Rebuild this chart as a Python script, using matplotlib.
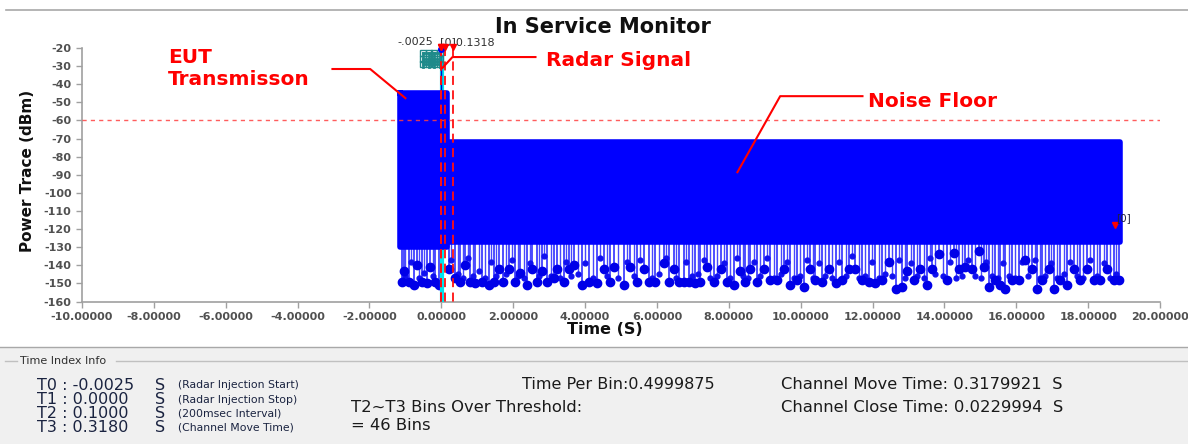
import matplotlib
matplotlib.use("Agg")
import matplotlib.pyplot as plt
from matplotlib.patches import Rectangle
from matplotlib.lines import Line2D

plt.rcParams['font.family'] = ['DejaVu Sans']

# ---------------- data ----------------
x_ticks = [-10, -8, -6, -4, -2, 0, 2, 4, 6, 8, 10, 12, 14, 16, 18, 20]
y_ticks = [-20, -30, -40, -50, -60, -70, -80, -90, -100, -110, -120, -130, -140, -150, -160]
threshold = -60

# EUT transmission band (time, top, bottom)
eut_t = [-1.15, 0.15]
eut_top = [-45, -45]
eut_bot = [-130, -130]
# noise floor band
noise_t = [0.15, 18.9]
noise_top = [-72, -72]
noise_bot = [-127, -127]

# stems below the dense band (big end dots): time and lowest value
stem_t = [-1.09, -1.05, -0.91, -0.77, -0.68, -0.54, -0.40, -0.31, -0.17, -0.07,
          0.20, 0.39, 0.53, 0.67, 0.81, 0.95, 1.13, 1.32, 1.46, 1.60,
          1.73, 1.87, 2.06, 2.20, 2.39, 2.52, 2.66, 2.80, 2.94, 3.13,
          3.22, 3.40, 3.54, 3.68, 3.92, 4.10, 4.33, 4.52, 4.70, 4.80,
          5.07, 5.26, 5.45, 5.63, 5.77, 5.96, 6.19, 6.33, 6.47, 6.61,
          6.74, 6.88, 7.07, 7.21, 7.39, 7.58, 7.77, 7.95, 8.14, 8.32,
          8.46, 8.60, 8.79, 8.97, 9.16, 9.34, 9.53, 9.71, 9.90, 10.08,
          10.27, 10.41, 10.60, 10.78, 10.97, 11.15, 11.34, 11.52, 11.71, 11.89,
          12.08, 12.27, 12.45, 12.64, 12.82, 12.96, 13.15, 13.33, 13.52, 13.66,
          13.84, 14.07, 14.26, 14.40, 14.58, 14.77, 14.96, 15.09, 15.23, 15.42,
          15.56, 15.70, 15.88, 16.07, 16.25, 16.44, 16.58, 16.72, 16.90, 17.04,
          17.23, 17.41, 17.60, 17.78, 17.97, 18.15, 18.34, 18.53, 18.71, 18.85]
stem_v = [-149, -143, -149, -151, -140, -149, -150, -141, -149, -151,
          -142, -147, -149, -140, -149, -150, -149, -151, -149, -142,
          -149, -142, -149, -144, -151, -142, -149, -143, -149, -147,
          -142, -149, -142, -140, -151, -149, -150, -142, -149, -141,
          -151, -141, -149, -142, -149, -149, -139, -149, -142, -149,
          -149, -149, -150, -149, -141, -149, -142, -149, -151, -143,
          -149, -142, -149, -142, -148, -148, -142, -151, -148, -152,
          -142, -148, -149, -142, -150, -148, -142, -142, -148, -149,
          -150, -148, -138, -153, -152, -143, -148, -142, -151, -142,
          -134, -148, -133, -142, -141, -142, -132, -141, -152, -148,
          -151, -153, -148, -148, -137, -142, -153, -148, -142, -153,
          -148, -151, -142, -148, -142, -148, -148, -142, -148, -148]

# thinner extra stems seen between the big ones
extra_t = [-1.00, -0.85, -0.62, -0.47, -0.24, 0.27, 0.46, 0.60, 0.74, 0.88,
           1.04, 1.22, 1.39, 1.53, 1.80, 1.96, 2.13, 2.30, 2.46, 2.73,
           2.87, 3.04, 3.31, 3.47, 3.61, 3.80, 4.01, 4.21, 4.42, 4.61,
           4.92, 5.16, 5.36, 5.54, 5.86, 6.06, 6.26, 6.54, 6.81, 6.97,
           7.14, 7.30, 7.48, 7.67, 7.86, 8.04, 8.23, 8.39, 8.53, 8.70,
           8.88, 9.07, 9.25, 9.44, 9.62, 9.81, 9.99, 10.18, 10.34, 10.50,
           10.69, 10.87, 11.06, 11.25, 11.43, 11.61, 11.80, 11.98, 12.17, 12.36,
           12.54, 12.73, 12.89, 13.06, 13.24, 13.43, 13.59, 13.75, 13.95, 14.16,
           14.33, 14.49, 14.67, 14.86, 15.02, 15.16, 15.32, 15.49, 15.63, 15.79,
           15.97, 16.16, 16.34, 16.51, 16.65, 16.81, 16.97, 17.13, 17.32, 17.50,
           17.69, 17.87, 18.06, 18.24, 18.43, 18.62, 18.78]
extra_v = [-146, -138, -147, -144, -146, -137, -145, -147, -136, -146,
           -143, -147, -138, -146, -145, -137, -146, -147, -139, -146,
           -135, -146, -147, -138, -146, -145, -139, -147, -136, -146,
           -147, -138, -146, -137, -147, -145, -136, -147, -138, -146,
           -145, -137, -147, -146, -139, -147, -136, -146, -147, -138,
           -146, -136, -147, -145, -138, -147, -146, -137, -147, -139,
           -146, -147, -138, -146, -135, -147, -146, -138, -147, -145,
           -146, -137, -147, -139, -146, -147, -136, -145, -146, -138,
           -147, -146, -137, -146, -147, -138, -146, -147, -139, -146,
           -147, -138, -146, -137, -147, -146, -139, -147, -145, -138,
           -146, -147, -137, -146, -139, -147, -145]

# radar signal
radar_t = 0.02
radar_top = -25
teal_t = [-0.50, -0.35, -0.20, -0.05]
teal_v = [-23, -26, -29]

# time indices T0..T3
marker_t = [-0.0025, 0.0, 0.1, 0.318]
marker_v = -19.5
end_marker = (18.76, -118)

# ---------------- figure ----------------
W, H = 1188, 444
fig = plt.figure(figsize=(W / 100, H / 100), dpi=100)
fig.patch.set_facecolor('white')


def fx(px):
    return px / W


def fy(py):
    return 1 - py / H


# bottom panel
fig.patches.append(Rectangle((0, 0), 1, fy(347), transform=fig.transFigure,
                             facecolor='#f0f0f0', edgecolor='none', zorder=0))
fig.lines.append(Line2D([0, 1], [fy(347), fy(347)], transform=fig.transFigure,
                        color='#a8a8a8', lw=1))
fig.lines.append(Line2D([fx(6), 1], [fy(10), fy(10)], transform=fig.transFigure,
                        color='#a8a8a8', lw=1.2))
fig.lines.append(Line2D([fx(5), fx(17)], [fy(361), fy(361)], transform=fig.transFigure,
                        color='#c0c0c0', lw=1))
fig.lines.append(Line2D([fx(116), fx(1188)], [fy(361), fy(361)], transform=fig.transFigure,
                        color='#c0c0c0', lw=1))

ax = fig.add_axes([fx(82), fy(301.5), fx(1160) - fx(82), fy(48) - fy(301.5)])
ax.set_xlim(-10, 20)
ax.set_ylim(-160, -20)
ax.set_facecolor('white')
for s in ['top', 'right']:
    ax.spines[s].set_visible(False)
for s in ['left', 'bottom']:
    ax.spines[s].set_color('#a0a0a0')
    ax.spines[s].set_linewidth(1.2)
ax.set_xticks(x_ticks)
ax.set_xticklabels(['%.5f' % v for v in x_ticks])
ax.set_yticks(y_ticks)
ax.set_yticklabels(['%d' % v for v in y_ticks])
ax.tick_params(axis='both', colors='#a0a0a0', length=4, width=1, labelsize=8,
               labelcolor='#505050')
for lab in ax.get_xticklabels() + ax.get_yticklabels():
    lab.set_fontweight('bold')

blue = '#0000ff'


def base_of(t):
    return eut_bot[0] if t < eut_t[1] else noise_bot[0]


# stems
for t, v in zip(extra_t, extra_v):
    ax.plot([t, t], [base_of(t), v], color='#4848ff', lw=1.0, zorder=2)
ax.plot(extra_t, extra_v, 'o', color='#1010f0', ms=3.5, zorder=2.4)
for t, v in zip(stem_t, stem_v):
    ax.plot([t, t], [base_of(t), v], color='#3030ff', lw=1.2, zorder=2)
ax.plot(stem_t, stem_v, 'o', color='#0000e8', ms=6, zorder=2.5, clip_on=False)

# radar signal (cyan) below the dense band
ax.plot([radar_t, radar_t], [radar_top, -160], color='#00e5ee', lw=3, zorder=3)
ax.plot([radar_t - 0.04, radar_t - 0.04], [-20, -45], color='#0000cc', lw=1, zorder=3)
ax.plot([radar_t - 0.04], [-20.5], 'o', color='#0000ff', ms=4, zorder=6, clip_on=False)
teal = '#1f8a8a'
for v in teal_v:
    ax.plot(teal_t, [v] * len(teal_t), color=teal, lw=2, marker='s', ms=5,
            mfc='none', mec=teal, zorder=4)
for t in teal_t:
    ax.plot([t, t], [teal_v[0], teal_v[-1] - 1.5], color=teal, lw=2, zorder=4)

# dense bands
ax.fill_between(eut_t, eut_top, eut_bot, color=blue, lw=0, zorder=4)
ax.plot([eut_t[0], eut_t[1], eut_t[1], eut_t[0], eut_t[0]],
        [eut_top[0], eut_top[1], eut_bot[1], eut_bot[0], eut_top[0]],
        color=blue, lw=4, solid_joinstyle='round', zorder=4)
ax.fill_between(noise_t, noise_top, noise_bot, color=blue, lw=0, zorder=4)
ax.plot([noise_t[0], noise_t[1], noise_t[1], noise_t[0]],
        [noise_top[0], noise_top[1], noise_bot[1], noise_bot[0]],
        color=blue, lw=4, solid_joinstyle='round', zorder=4)

# threshold line
ax.axhline(threshold, color='#ff4040', lw=1, ls=(0, (3, 3)), alpha=0.85, zorder=5)

# time index markers
for t in marker_t:
    ax.plot([t, t], [marker_v, -160], color='#ff1010', lw=1.3, ls=(0, (5, 3)), zorder=5,
            clip_on=False)
ax.plot(marker_t, [marker_v] * len(marker_t), 'v', color='#ff0000', ms=5, zorder=6,
        clip_on=False)
ax.plot([end_marker[0]], [end_marker[1]], 'v', color='#ff0000', ms=5, zorder=6)
ax.text(end_marker[0] + 0.02, end_marker[1] + 1.5, '[0]', fontsize=7.5, color='#202040',
        ha='left', va='bottom', zorder=7, clip_on=False)

ax.text(-0.22, -18.2, '-.0025', fontsize=8, color='#303030', ha='right', va='baseline',
        clip_on=False)
ax.text(-0.03, -18.2, '[0]0.1318', fontsize=8, color='#303030', ha='left', va='baseline',
        clip_on=False)

# annotations
red = '#ff0000'
ax.plot([-3.03, -1.98, -1.0], [-31.6, -31.6, -47.7], color=red, lw=1.5, zorder=8,
        clip_on=False)
ax.text(-7.6, -28.3, 'EUT', color=red, fontsize=14.5, fontweight='bold', ha='left',
        va='baseline', clip_on=False)
ax.text(-7.6, -40.5, 'Transmisson', color=red, fontsize=14.5, fontweight='bold', ha='left',
        va='baseline', clip_on=False)
ax.plot([2.62, 0.31, 0.03], [-25, -25, -31], color=red, lw=1.5, zorder=8, clip_on=False)
ax.text(2.92, -30, 'Radar Signal', color=red, fontsize=14.5, fontweight='bold', ha='left',
        va='baseline', clip_on=False)
ax.plot([11.72, 9.43, 8.24], [-46.6, -46.6, -88.6], color=red, lw=1.5, zorder=8)
ax.text(11.88, -52.6, 'Noise Floor', color=red, fontsize=14.5, fontweight='bold', ha='left',
        va='baseline', clip_on=False)

# titles / labels
fig.text(fx(603), fy(27), 'In Service Monitor', fontsize=15, fontweight='bold',
         ha='center', va='center', color='#101010')
fig.text(fx(28), fy(171), 'Power Trace (dBm)', fontsize=11, fontweight='bold',
         rotation=90, ha='center', va='center', color='#101010')
fig.text(fx(605), fy(330), 'Time (S)', fontsize=11.5, fontweight='bold',
         ha='center', va='center', color='#101010')

# bottom info panel
fig.text(fx(20), fy(361), 'Time Index Info', fontsize=8, color='#303030',
         ha='left', va='center')
t_rows = ['T0 : -0.0025', 'T1 : 0.0000', 'T2 : 0.1000', 'T3 : 0.3180']
t_notes = ['(Radar Injection Start)', '(Radar Injection Stop)', '(200msec Interval)',
           '(Channel Move Time)']
row_y = [385, 399.5, 413.5, 427.5]
for txt, note, yy in zip(t_rows, t_notes, row_y):
    fig.text(fx(37), fy(yy), txt, fontsize=11.5, color='#1a2340', ha='left', va='center')
    fig.text(fx(155), fy(yy), 'S', fontsize=11.5, color='#1a2340', ha='left', va='center')
    fig.text(fx(178), fy(yy), note, fontsize=7.8, color='#1a2340', ha='left', va='center')

panel = '#1a1a1a'
fig.text(fx(522), fy(384), 'Time Per Bin:0.4999875', fontsize=11.5, color=panel,
         ha='left', va='center')
fig.text(fx(351), fy(407), 'T2~T3 Bins Over Threshold:', fontsize=11.8, color=panel,
         ha='left', va='center')
fig.text(fx(351), fy(425), '= 46 Bins', fontsize=11.8, color=panel, ha='left', va='center')
fig.text(fx(781), fy(384), 'Channel Move Time: 0.3179921  S', fontsize=11.8, color=panel,
         ha='left', va='center')
fig.text(fx(781), fy(407), 'Channel Close Time: 0.0229994  S', fontsize=11.8, color=panel,
         ha='left', va='center')

fig.savefig('out.png', dpi=100)
